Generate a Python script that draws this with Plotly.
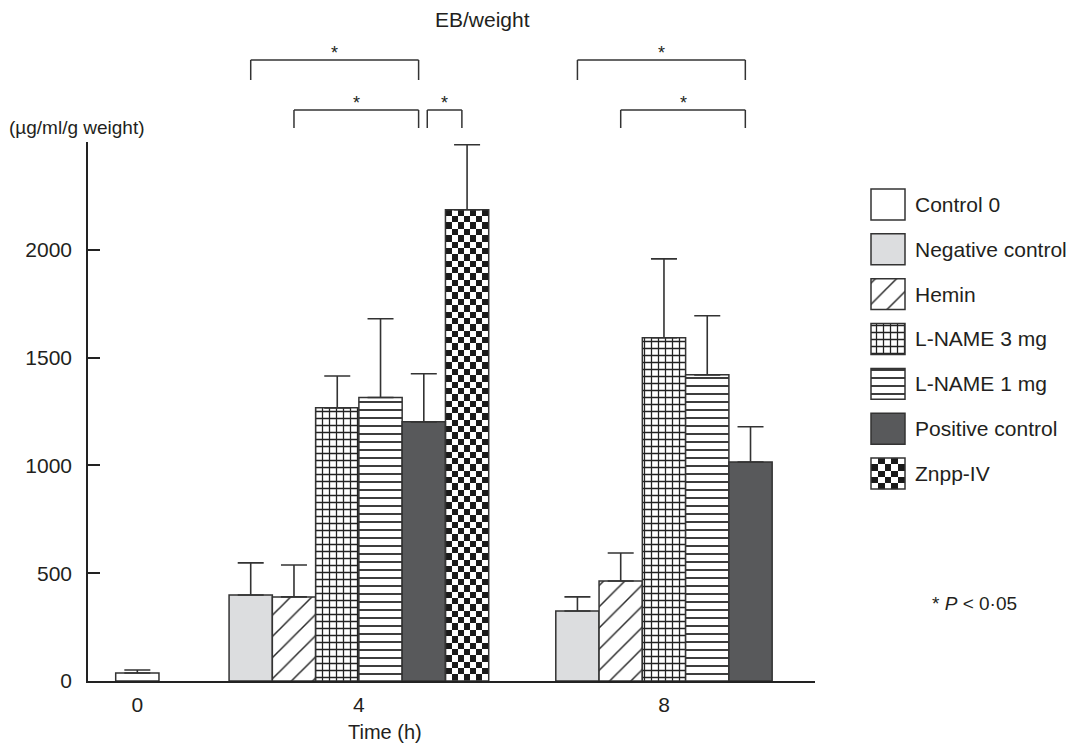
import plotly.graph_objects as go

W, H = 1071, 748

# ---------------- data ----------------
time_groups = ["0", "4", "8"]
series_names = ["Control 0", "Negative control", "Hemin", "L-NAME 3 mg",
                "L-NAME 1 mg", "Positive control", "Znpp-IV"]

control0 = [37, None, None]
control0_sd = [14, None, None]
negative = [None, 399, 325]
negative_sd = [None, 149, 65]
hemin = [None, 390, 464]
hemin_sd = [None, 148, 130]
lname3 = [None, 1267, 1592]
lname3_sd = [None, 148, 366]
lname1 = [None, 1315, 1420]
lname1_sd = [None, 365, 274]
positive = [None, 1202, 1016]
positive_sd = [None, 223, 163]
znpp = [None, 2186, None]
znpp_sd = [None, 301, None]

y_ticks = [0, 500, 1000, 1500, 2000]

values = [control0, negative, hemin, lname3, lname1, positive, znpp]
sds = [control0_sd, negative_sd, hemin_sd, lname3_sd, lname1_sd, positive_sd, znpp_sd]

# significance comparisons: (time group index, series a, series b, level)
comparisons = [
    (1, "Negative control", "Positive control", 0),
    (1, "Hemin", "Positive control", 1),
    (1, "Positive control", "Znpp-IV", 1),
    (2, "Negative control", "Positive control", 0),
    (2, "Hemin", "Positive control", 1),
]

# ---------------- layout constants ----------------
FONT = "Liberation Sans, Arial, sans-serif"
TXT = "#231f20"
EDGE = "#333333"
X0, X1, Y0, Y1 = 88, 815, 142, 681          # plot area in pixels
X_RANGE = [0, 16.8]
Y_RANGE = [0, 2500]
group_centers = [1.14, 6.26, 13.31]
CHECK = "checker"
CHECK_PX = 6.4                                # checker square size in pixels

styles = [
    dict(color="white", shape="", fg=None, size=None, sol=None),
    dict(color="#dcdddf", shape="", fg=None, size=None, sol=None),
    dict(color="white", shape="/", fg="#2a2a2a", size=15, sol=0.1),
    dict(color="white", shape="+", fg="#222222", size=7, sol=0.33),
    dict(color="white", shape="-", fg="#222222", size=8, sol=0.22),
    dict(color="#58595b", shape="", fg=None, size=None, sol=None),
    dict(color="rgba(0,0,0,0)", shape=CHECK, fg="#1a1a1a", size=None, sol=None),
]


def px_x(p):
    return p / W


def px_y(p):
    return 1 - p / H


def marker_for(st):
    m = dict(color=st["color"], line=dict(color=EDGE, width=1.5))
    if st["shape"] and st["shape"] != CHECK:
        m["pattern"] = dict(shape=st["shape"], fgcolor=st["fg"], bgcolor=st["color"],
                            size=st["size"], solidity=st["sol"], fillmode="replace")
    return m


def checker_trace(xa, xb, ya, yb, ncols, nrows, fg, xaxis, yaxis):
    dx = (xb - xa) / ncols
    dy = (yb - ya) / nrows
    z = [[(r + c) % 2 for c in range(ncols)] for r in range(nrows)]
    return go.Heatmap(z=z, x0=xa + dx / 2, dx=dx, y0=ya + dy / 2, dy=dy,
                      colorscale=[[0, "white"], [1, fg]], showscale=False, zsmooth=False,
                      hoverinfo="skip", xaxis=xaxis, yaxis=yaxis, zmin=0, zmax=1)


# positions of bars within each group
positions = {}
for g in range(len(time_groups)):
    present = [i for i in range(len(series_names)) if values[i][g] is not None]
    left = group_centers[g] - len(present) / 2
    for k, i in enumerate(present):
        positions[(g, i)] = left + k + 0.5

px_per_x = (X1 - X0) / (X_RANGE[1] - X_RANGE[0])
px_per_y = (Y1 - Y0) / (Y_RANGE[1] - Y_RANGE[0])

fig = go.Figure()

for i, name in enumerate(series_names):
    xs, ys, es = [], [], []
    for g in range(len(time_groups)):
        if values[i][g] is not None:
            xs.append(positions[(g, i)])
            ys.append(values[i][g])
            es.append(sds[i][g])
            if styles[i]["shape"] == CHECK:
                ncols = max(1, round(px_per_x / CHECK_PX))
                nrows = max(1, round(values[i][g] * px_per_y / CHECK_PX))
                fig.add_trace(checker_trace(positions[(g, i)] - 0.5, positions[(g, i)] + 0.5,
                                            0, values[i][g], ncols, nrows, styles[i]["fg"],
                                            "x", "y"))
    fig.add_trace(go.Bar(
        x=xs, y=ys, width=1, name=name, showlegend=False,
        marker=marker_for(styles[i]),
        error_y=dict(type="data", array=es, arrayminus=[0] * len(es), symmetric=False,
                     color=EDGE, thickness=1.6, width=13),
        xaxis="x", yaxis="y",
    ))

# legend swatches on an auxiliary axis
SW = 0.69
for i, name in enumerate(series_names):
    if styles[i]["shape"] == CHECK:
        fig.add_trace(checker_trace(0, 1, i - SW / 2, i + SW / 2, 5, 5, styles[i]["fg"],
                                    "x2", "y2"))
    fig.add_trace(go.Bar(
        x=[1], y=[i], base=0, orientation="h", width=SW, showlegend=False,
        marker=marker_for(styles[i]), xaxis="x2", yaxis="y2", hoverinfo="skip",
    ))

annotations = []
shapes = []

# legend labels
leg_top, leg_bot = 182, 496
slot = (leg_bot - leg_top) / len(series_names)
for i, name in enumerate(series_names):
    annotations.append(dict(text=name, x=px_x(913), y=px_y(leg_top + slot * (i + 0.5)),
                            xref="paper", yref="paper", xanchor="left", yanchor="middle",
                            showarrow=False, font=dict(size=21, color=TXT, family=FONT)))

# significance brackets
level_top = [60, 110]
level_bot = [80, 128]
for g, a, b, lev in comparisons:
    ia, ib = series_names.index(a), series_names.index(b)
    xa = positions[(g, ia)] + (0.08 if a == "Positive control" else 0)
    xb = positions[(g, ib)] - 0.12
    yt, yb = px_y(level_top[lev]), px_y(level_bot[lev])
    for (xx0, yy0, xx1, yy1) in [(xa, yb, xa, yt), (xa, yt, xb, yt), (xb, yt, xb, yb)]:
        shapes.append(dict(type="line", xref="x", yref="paper", x0=xx0, x1=xx1, y0=yy0, y1=yy1,
                           line=dict(color=EDGE, width=1.5)))
    annotations.append(dict(text="*", x=(xa + xb) / 2, y=yt, xref="x", yref="paper",
                            xanchor="center", yanchor="bottom", showarrow=False, yshift=-5,
                            font=dict(size=18, color=TXT, family=FONT)))

# texts
annotations += [
    dict(text="EB/weight", x=px_x(482), y=px_y(20), xref="paper", yref="paper",
         xanchor="center", yanchor="middle", showarrow=False,
         font=dict(size=21, color=TXT, family=FONT)),
    dict(text="(µg/ml/g weight)", x=px_x(7), y=px_y(127), xref="paper", yref="paper",
         xanchor="left", yanchor="middle", showarrow=False,
         font=dict(size=19, color=TXT, family=FONT)),
    dict(text="Time (h)", x=px_x(385), y=px_y(732), xref="paper", yref="paper",
         xanchor="center", yanchor="middle", showarrow=False,
         font=dict(size=20, color=TXT, family=FONT)),
    dict(text="* <i>P</i> < 0·05", x=px_x(930), y=px_y(603), xref="paper", yref="paper",
         xanchor="left", yanchor="middle", showarrow=False,
         font=dict(size=19, color=TXT, family=FONT)),
]

fig.update_layout(
    width=W, height=H,
    margin=dict(l=0, r=0, t=0, b=0),
    paper_bgcolor="white", plot_bgcolor="rgba(0,0,0,0)",
    barmode="overlay",
    showlegend=False,
    font=dict(family=FONT, color=TXT, size=21),
    xaxis=dict(domain=[px_x(X0), px_x(X1)], range=X_RANGE, anchor="y",
               showline=True, linecolor="#222", linewidth=1.5, mirror=False,
               tickvals=group_centers, ticktext=time_groups, ticks="",
               showgrid=False, zeroline=False, tickfont=dict(size=21),
               automargin=False, ticklabelstandoff=4),
    yaxis=dict(domain=[px_y(Y1), px_y(Y0)], range=Y_RANGE, anchor="x",
               showline=True, linecolor="#222", linewidth=1.5,
               ticks="inside", ticklen=12, tickwidth=1.5, tickcolor="#222",
               tickvals=y_ticks, showgrid=False, zeroline=False,
               tickfont=dict(size=21), automargin=False, ticklabelstandoff=10),
    xaxis2=dict(domain=[px_x(866), px_x(910)], range=[-0.147, 1.147], visible=False,
                anchor="y2", fixedrange=True),
    yaxis2=dict(domain=[px_y(leg_bot), px_y(leg_top)], range=[len(series_names) - 0.5, -0.5],
                visible=False, anchor="x2", fixedrange=True),
    annotations=annotations,
    shapes=shapes,
)

fig.write_html("out.html", config={"displayModeBar": False},
               post_script="document.body.style.margin='0';document.body.style.overflow='hidden';")
